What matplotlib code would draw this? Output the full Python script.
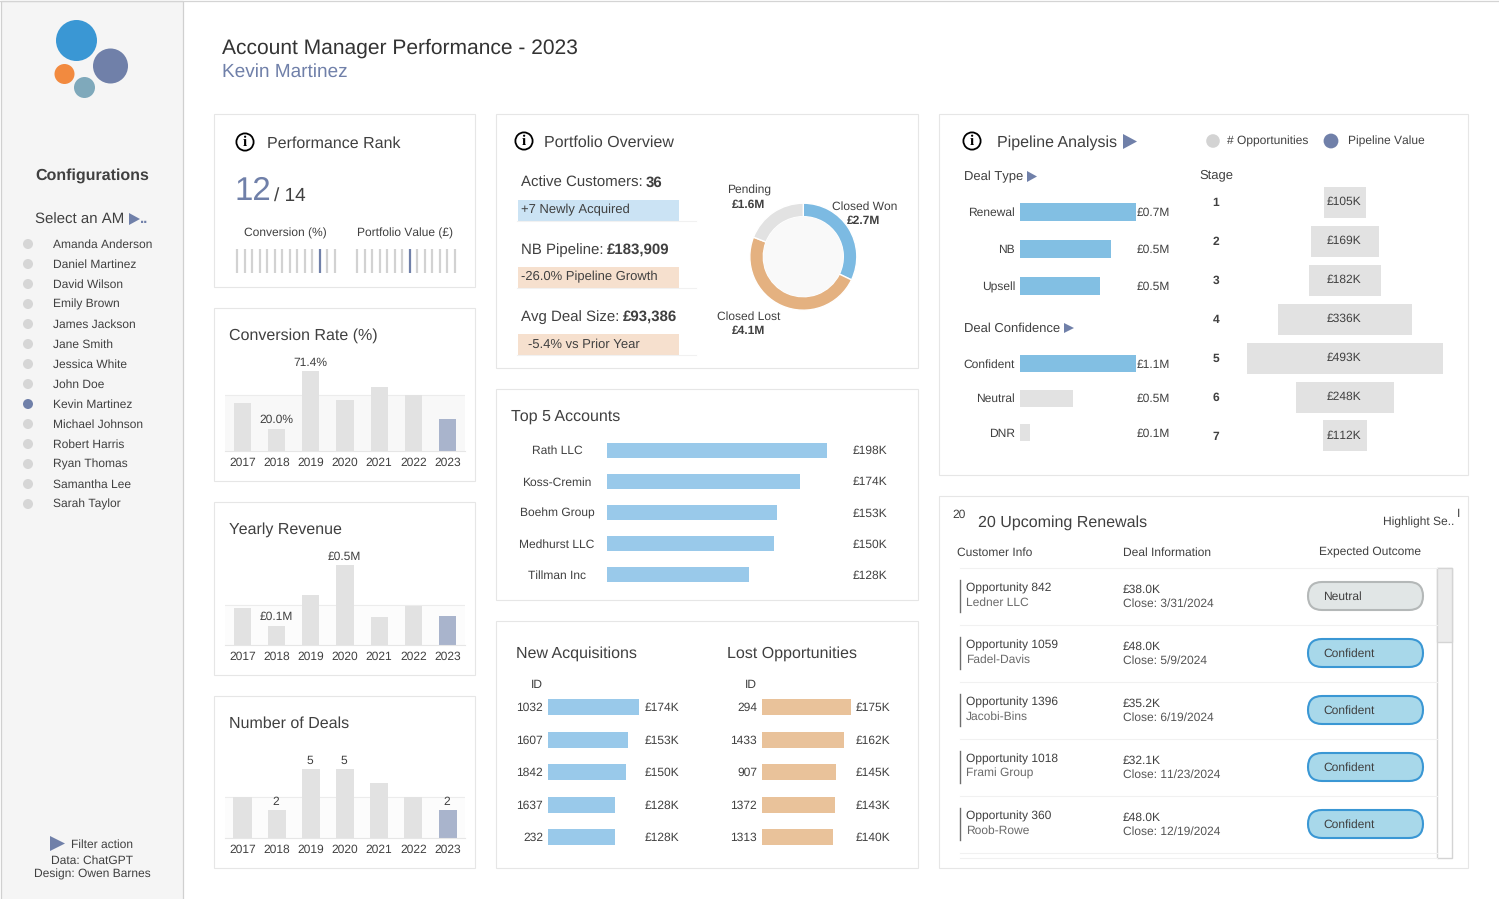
import matplotlib
matplotlib.use("Agg")
import matplotlib.pyplot as plt
from matplotlib.patches import Circle, Rectangle, Polygon, FancyBboxPatch

plt.rcParams['font.family'] = ['Liberation Sans', 'DejaVu Sans']
plt.rcParams['text.hinting'] = 'none'
plt.rcParams['text.hinting_factor'] = 1

W, H = 1499, 899
TXT = '#404040'
SLATE = '#7080a9'
GREY_BAR = '#e2e2e2'
HILITE = '#a9b4cc'
BORDER = '#e6e6e6'
SMALL = 8.45
NUM = 8.75
HEAD = 11.6

years = ['2017', '2018', '2019', '2020', '2021', '2022', '2023']
conv_rate = [42.8, 20.0, 71.4, 45.5, 57.1, 50.0, 28.6]
conv_labels = ['', '20.0%', '71.4%', '', '', '', '']
revenue = [0.23, 0.12, 0.31, 0.50, 0.175, 0.245, 0.18]
rev_labels = ['', '£0.1M', '', '£0.5M', '', '', '']
deals = [3, 2, 5, 5, 4, 3, 2]
deal_labels = ['', '2', '5', '5', '', '', '2']

managers = ['Amanda Anderson', 'Daniel Martinez', 'David Wilson', 'Emily Brown', 'James Jackson',
            'Jane Smith', 'Jessica White', 'John Doe', 'Kevin Martinez', 'Michael Johnson',
            'Robert Harris', 'Ryan Thomas', 'Samantha Lee', 'Sarah Taylor']
selected = 'Kevin Martinez'

rank_total = 14
conv_rank = 12
value_rank = 8

donut_labels = ['Closed Won', 'Closed Lost', 'Pending']
donut_values = [2.7, 4.1, 1.6]
donut_colors = ['#7cbae2', '#e4b180', '#e2e2e2']

top_accounts = ['Rath LLC', 'Koss-Cremin', 'Boehm Group', 'Medhurst LLC', 'Tillman Inc']
top_values = [198, 174, 153, 150, 128]

new_ids = ['1032', '1607', '1842', '1637', '232']
new_values = [174, 153, 150, 128, 128]
lost_ids = ['294', '1433', '907', '1372', '1313']
lost_values = [175, 162, 145, 143, 140]

deal_types = ['Renewal', 'NB', 'Upsell']
deal_type_values = [0.70, 0.55, 0.48]
deal_type_labels = ['£0.7M', '£0.5M', '£0.5M']
confidence = ['Confident', 'Neutral', 'DNR']
confidence_values = [1.1, 0.50, 0.095]
confidence_labels = ['£1.1M', '£0.5M', '£0.1M']

stages = ['1', '2', '3', '4', '5', '6', '7']
stage_values = [105, 169, 182, 336, 493, 248, 112]

opps = ['Opportunity 842', 'Opportunity 1059', 'Opportunity 1396', 'Opportunity 1018', 'Opportunity 360']
customers = ['Ledner LLC', 'Fadel-Davis', 'Jacobi-Bins', 'Frami Group', 'Roob-Rowe']
amounts = ['£38.0K', '£48.0K', '£35.2K', '£32.1K', '£48.0K']
closes = ['3/31/2024', '5/9/2024', '6/19/2024', '11/23/2024', '12/19/2024']
outcomes = ['Neutral', 'Confident', 'Confident', 'Confident', 'Confident']

fig = plt.figure(figsize=(W / 100, H / 100), dpi=100, facecolor='white')
bg = fig.add_axes([0, 0, 1, 1], zorder=0)
bg.set_xlim(0, W)
bg.set_ylim(H, 0)
bg.axis('off')


def ax_at(x0, y0, x1, y1):
    ax = fig.add_axes([x0 / W, 1 - y1 / H, (x1 - x0) / W, (y1 - y0) / H], zorder=1)
    ax.patch.set_alpha(0)
    for s in ax.spines.values():
        s.set_visible(False)
    return ax


def t(x, y, s, size=SMALL, color=TXT, ha='left', weight='normal', **kw):
    bg.text(x, y + 1.4, s, fontsize=size, color=color, ha=ha, va='center', weight=weight, **kw)


def panel(x0, y0, x1, y1):
    bg.add_patch(Rectangle((x0, y0 - 0.5), x1 - x0, y1 - y0, fc='white', ec=BORDER, lw=0.8))


def tri(x0, y0, x1, y1):
    bg.add_patch(Polygon([(x0, y0), (x1, (y0 + y1) / 2), (x0, y1)], fc=SLATE, ec='none'))


def info(x, y):
    bg.add_patch(Circle((x, y), 8.6, fc='white', ec='black', lw=1.3))
    t(x, y - 1, 'i', size=11, color='black', ha='center', weight='bold', family='Liberation Serif')


def year_chart(y_base, values, labels, ymax_px, px_per_unit, band, band_color, width):
    ax = ax_at(225, y_base - ymax_px, 465, y_base)
    ax.set_xlim(-0.512, 6.51)
    ax.set_ylim(0, ymax_px / px_per_unit)
    ax.axhspan(0, band, color=band_color, lw=0, zorder=0)
    ax.axhline(band, color='#ececec', lw=0.8, zorder=1)
    cols = [GREY_BAR] * 6 + [HILITE]
    ax.bar(range(7), values, width=width, color=cols, zorder=2)
    for i, lab in enumerate(labels):
        if lab:
            ax.annotate(lab, (i - 0.02, values[i]), xytext=(0, 6.2), textcoords='offset points', ha='center',
                        va='center', fontsize=NUM, color=TXT)
    ax.set_xticks(range(7), years, fontsize=NUM, color=TXT)
    ax.set_yticks([])
    ax.tick_params(axis='x', length=0, pad=4.5)
    ax.spines['bottom'].set_visible(True)
    ax.spines['bottom'].set_color('#e6e6e6')
    return ax


def hbars(x0, x1, xmax, centers, values, colors, h, names=None, pad=3.6, size=SMALL):
    step = (centers[-1] - centers[0]) / (len(centers) - 1)
    ax = ax_at(x0, centers[0] - step / 2, x1, centers[-1] + step / 2)
    ax.set_xlim(0, xmax)
    ax.set_ylim(len(values) - 0.5, -0.5)
    ax.barh(range(len(values)), values, height=h / step, color=colors)
    ax.set_xticks([])
    ax.set_yticks(range(len(values)))
    ax.set_yticklabels(names if names else [], fontsize=size, color=TXT)
    ax.tick_params(axis='y', length=0, pad=pad)
    return ax


# sidebar
bg.add_patch(Rectangle((0.5, 0.5), 183, 900, fc='#f5f5f5', ec='#d0d0d0', lw=0.9))
bg.plot([0, W], [0.5, 0.5], color='#d4d4d4', lw=0.9)
bg.add_patch(Circle((76.5, 40.5), 20.5, fc='#3a97d4', ec='none'))
bg.add_patch(Circle((110.5, 66), 17.5, fc=SLATE, ec='none'))
bg.add_patch(Circle((64.5, 74), 10, fc='#f28a3f', ec='none'))
bg.add_patch(Circle((84.5, 87.5), 10.5, fc='#7fa9bb', ec='none'))
t(35, 174, 'Configurations', size=11.3, weight='bold')
t(35, 218.5, 'Select an AM', size=11.1)
tri(129, 213, 140, 225)
t(140, 218, '..', size=11.1, color=SLATE, weight='bold')
for i, name in enumerate(managers):
    yy = 244 + 20 * i
    bg.add_patch(Circle((28, yy), 5, fc=SLATE if name == selected else '#d6d6d6', ec='none'))
    t(53, yy - 0.5, name)
tri(50, 836, 65, 851)
t(71, 843.5, 'Filter action')
t(92, 859.5, 'Data: ChatGPT', ha='center')
t(92, 873.5, 'Design: Owen Barnes', ha='center')

# header
t(222, 47, 'Account Manager Performance - 2023', size=15.35, color='#333333')
t(222, 70.5, 'Kevin Martinez', size=13.55, color=SLATE)

# panels
panel(214.5, 114.5, 475.5, 287.5)
panel(214.5, 308.5, 475.5, 481.5)
panel(214.5, 502.5, 475.5, 675.5)
panel(214.5, 696.5, 475.5, 868.5)
panel(496.5, 114.5, 918.5, 368.5)
panel(496.5, 389.5, 918.5, 600.5)
panel(496.5, 621.5, 918.5, 868.5)
panel(939.5, 114.5, 1468.5, 475.5)
panel(939.5, 496.5, 1468.5, 868.5)

# performance rank
info(245, 142)
t(267, 142, 'Performance Rank', size=HEAD)
t(234, 190, str(conv_rank), size=23.5, color=SLATE)
t(274, 194, '/ %d' % rank_total, size=13.5)
t(285, 232.5, 'Conversion (%)', ha='center')
t(405, 232.5, 'Portfolio Value (£)', ha='center')
for x0, x1, mine in [(233, 339, conv_rank), (353, 459, value_rank)]:
    ax = ax_at(x0, 249, x1, 273)
    ranks = list(range(1, rank_total + 1))
    ax.vlines(ranks, 0, 1, colors=[SLATE if r == mine else '#d2d2d2' for r in ranks], lw=1.6)
    ax.set_xlim(1 - 4 / 7.54, rank_total + 4 / 7.54)
    ax.set_ylim(0, 1)
    ax.set_xticks([])
    ax.set_yticks([])

# yearly charts
t(229, 334.5, 'Conversion Rate (%)', size=HEAD)
year_chart(451, conv_rate, conv_labels, 92, 80 / 71.4, 50, '#f8f8f8', 0.5)
t(229, 528.5, 'Yearly Revenue', size=HEAD)
year_chart(645, revenue, rev_labels, 92, 160, 0.25, '#fcfcfc', 0.5)
t(229, 722.5, 'Number of Deals', size=HEAD)
year_chart(838, deals, deal_labels, 82, 13.8, 3, '#fcfcfc', 0.53)

# portfolio overview
info(524, 141)
t(544, 141, 'Portfolio Overview', size=HEAD)
t(521, 181.5, 'Active Customers: ', size=10.8)
t(646, 181.5, '36', size=10.8, weight='bold')
t(521, 248.5, 'NB Pipeline: ', size=10.8)
t(607, 248.5, '£183,909', size=10.8, weight='bold')
t(521, 315.5, 'Avg Deal Size: ', size=10.8)
t(623, 315.5, '£93,386', size=10.8, weight='bold')
for yy, col in [(200, '#cbe3f4'), (267, '#f6e0ce'), (334, '#f6e0ce')]:
    bg.add_patch(Rectangle((518, yy), 161, 20.5, fc=col, ec='none'))
    bg.plot([517, 696], [yy + 21, yy + 21], color='#f1f1f1', lw=0.8)
t(521, 209, '+7 Newly Acquired', size=9.4)
t(521, 276, '-26.0% Pipeline Growth', size=9.4)
t(528, 343, '-5.4% vs Prior Year', size=9.4)

dax = ax_at(743.3, 196.7, 863.3, 316.7)
dax.pie(donut_values, colors=donut_colors, startangle=90, counterclock=False, radius=53.5,
        wedgeprops=dict(width=13.5, edgecolor='white', linewidth=1))
dax.add_patch(Circle((0, 0), 40, fc='#f9f9f9', ec='none'))
dax.set_xlim(-60, 60)
dax.set_ylim(-60, 60)
t(749, 189, 'Pending', ha='center')
t(749, 203, '£%.1fM' % donut_values[2], size=NUM, ha='center', weight='bold')
t(865, 205, 'Closed Won', ha='center')
t(864, 219, '£%.1fM' % donut_values[0], size=NUM, ha='center', weight='bold')
t(749, 315, 'Closed Lost', ha='center')
t(749, 329, '£%.1fM' % donut_values[1], size=NUM, ha='center', weight='bold')

# top 5
t(511, 415, 'Top 5 Accounts', size=HEAD)
top_y = [450, 481.2, 512.4, 543.6, 574.8]
ax = hbars(607, 827, 198, top_y, top_values, '#99c9ea', 15, top_accounts, pad=36)
for lab in ax.get_yticklabels():
    lab.set_ha('center')
for yy, v in zip(top_y, top_values):
    t(853, yy - 0.5, '£%dK' % v, size=8.7)

# new / lost
t(516, 652, 'New Acquisitions', size=HEAD)
t(727, 652, 'Lost Opportunities', size=HEAD)
t(543, 683, 'ID', ha='right')
t(757, 683, 'ID', ha='right')
rows_y = [707, 739.5, 772, 804.5, 837]
hbars(548, 639, 174, rows_y, new_values, '#99c9ea', 16, new_ids, size=NUM)
hbars(762, 851, 175, rows_y, lost_values, '#e9c29a', 16, lost_ids, size=NUM)
for yy, a, b in zip(rows_y, new_values, lost_values):
    t(645, yy - 0.5, '£%dK' % a, size=8.7)
    t(856, yy - 0.5, '£%dK' % b, size=8.7)

# pipeline analysis
info(972, 141)
t(997, 141, 'Pipeline Analysis', size=HEAD)
tri(1123, 134, 1137, 149)
bg.add_patch(Circle((1213, 141), 6.8, fc='#d3d3d3', ec='none'))
t(1227, 140.5, '# Opportunities')
bg.add_patch(Circle((1331, 141), 7.4, fc=SLATE, ec='none'))
t(1348, 140.5, 'Pipeline Value')
t(964, 175.5, 'Deal Type', size=9.2)
tri(1027, 171, 1037, 182)
t(964, 327.5, 'Deal Confidence', size=9.2)
tri(1064, 323, 1074, 333)
t(1199, 173.5, 'Stage', size=9.2)

type_y = [212, 249, 286]
hbars(1020, 1136, 0.70, type_y, deal_type_values, '#82bfe3', 18, deal_types, size=8.7)
conf_y = [363.5, 398, 432.5]
hbars(1020, 1136, 1.1, conf_y, confidence_values, ['#82bfe3', GREY_BAR, GREY_BAR], 17, confidence, size=8.7)
for yy, lab in zip(type_y + conf_y, deal_type_labels + confidence_labels):
    t(1137, yy - 0.5, lab, size=8.7)

stage_y = [202, 241, 280, 319, 358, 397, 436]
ax = ax_at(1247, 182.5, 1443, 455.5)
ax.set_xlim(-246.5, 246.5)
ax.set_ylim(6.5, -0.5)
ax.barh(range(7), stage_values, left=[-v / 2 for v in stage_values], height=31 / 39, color=GREY_BAR)
for i, v in enumerate(stage_values):
    ax.text(-3, i - 0.01, '£%dK' % v, ha='center', va='center', fontsize=8.7, color=TXT)
ax.set_xticks([])
ax.set_yticks(range(7))
ax.set_yticklabels(stages, fontsize=NUM, color=TXT, weight='bold', ha='center')
ax.tick_params(axis='y', length=0, pad=22.5)

# renewals
t(952, 513.5, '20', size=SMALL)
t(978, 521, '20 Upcoming Renewals', size=HEAD)
t(1383, 521.5, 'Highlight Se..')
t(1457, 512, 'I')
t(957, 551.5, 'Customer Info')
t(1123, 551.5, 'Deal Information')
t(1319, 551.5, 'Expected Outcome')
bg.plot([960, 1437], [568, 568], color='#f1f1f1', lw=0.8)
for i in range(5):
    yy = 596 + 57 * i
    bg.plot([960.5, 960.5], [yy - 16, yy + 16], color='#6e6e6e', lw=1.0)
    t(966, yy - 8.5, opps[i])
    t(966, yy + 5.5, customers[i], color='#6a6a6a')
    t(1123, yy - 7.5, amounts[i])
    t(1123, yy + 6.5, 'Close: ' + closes[i], color='#555555')
    bg.plot([960, 1437], [yy + 29, yy + 29], color='#f1f1f1', lw=0.8)
    neutral = outcomes[i] == 'Neutral'
    bg.add_patch(FancyBboxPatch((1308, yy - 14), 115, 28, boxstyle='round,pad=0,rounding_size=14',
                                fc='#e1e6e6' if neutral else '#a8d8ea',
                                ec='#b4b8b8' if neutral else '#3a97d4', lw=1.5))
    t(1323, yy - 0.5, outcomes[i])
bg.plot([960, 1437], [858, 858], color='#f1f1f1', lw=0.8)
bg.add_patch(Rectangle((1437.5, 567.5), 15, 290, fc='white', ec='#d4d4d4', lw=1.0))
bg.add_patch(Rectangle((1437.5, 567.5), 15, 74, fc='#ececec', ec='#d4d4d4', lw=1.0))

fig.savefig('out.png', dpi=100, facecolor='white')
